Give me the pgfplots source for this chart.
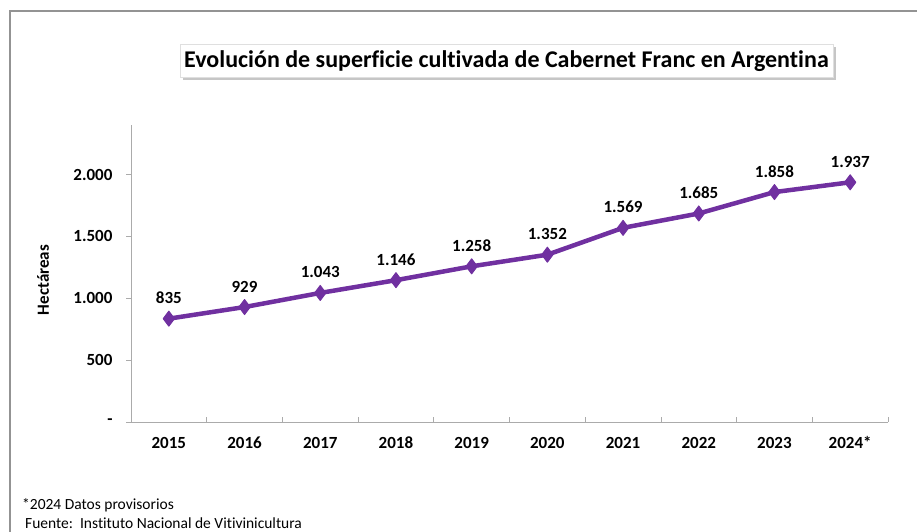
\documentclass[border=0pt]{standalone}
\usepackage{fontspec}
\setmainfont{Carlito}[Ligatures=NoCommon]
\usepackage{pgfplots}
\pgfplotsset{compat=1.18}
\usetikzlibrary{shadows}
\definecolor{uva}{HTML}{7030A0}
\definecolor{eje}{HTML}{ABABAB}

\begin{document}
\begin{tikzpicture}
\useasboundingbox (0pt,0pt) rectangle (917pt,531pt);
% marco exterior (solo se ven arriba e izquierda)
\draw[gray!85, line width=1.5pt] (10pt,-5pt) -- (10pt,520pt) -- (930pt,520pt);

% titulo con sombra
\node[draw=gray!25, fill=white, drop shadow={shadow xshift=3pt, shadow yshift=-3pt, opacity=0.45},
  minimum width=653pt, minimum height=33pt, inner sep=0pt,
  font=\bfseries\fontsize{24}{28}\selectfont] at (506.5pt,470pt)
  {Evolución de superficie cultivada de Cabernet Franc en Argentina};

\begin{axis}[
  scale only axis, width=757pt, height=297pt,
  at={(131pt,109pt)}, anchor=south west,
  xmin=0, xmax=10, ymin=0, ymax=2400,
  axis x line*=bottom, axis y line*=left,
  axis line style={eje, line width=1pt, -},
  xtick={0,...,10}, xticklabels={},
  extra x ticks={0.5,1.5,2.5,3.5,4.5,5.5,6.5,7.5,8.5,9.5},
  extra x tick labels={2015,2016,2017,2018,2019,2020,2021,2022,2023,2024*},
  extra x tick style={major tick length=0pt,
    xticklabel style={text height=11pt, text depth=0pt, yshift=-12pt}},
  xtick align=inside, ytick align=outside,
  ytick={0,500,1000,1500,2000}, yticklabels={-,500,1.000,1.500,2.000},
  major tick length=5pt,
  tick style={eje, line width=0.8pt},
  yticklabel style={xshift=-10pt},
  ticklabel style={font=\bfseries\fontsize{17}{20}\selectfont},
  clip=false,
]
\addplot[uva, line width=4.5pt, line join=round, mark=diamond*, mark size=7.5pt,
  mark options={line width=1pt, fill=uva},
  nodes near coords, point meta=explicit symbolic,
  every node near coord/.append style={text=black, yshift=11pt,
    font=\bfseries\fontsize{17}{20}\selectfont}]
  coordinates {
  (0.5,835) [835]
  (1.5,929) [929]
  (2.5,1043) [1.043]
  (3.5,1146) [1.146]
  (4.5,1258) [1.258]
  (5.5,1352) [1.352]
  (6.5,1569) [1.569]
  (7.5,1685) [1.685]
  (8.5,1858) [1.858]
  (9.5,1937) [1.937]
  };
\end{axis}

\node[rotate=90, font=\bfseries\fontsize{17}{20}\selectfont] at (43pt,251pt) {Hectáreas};
\node[anchor=west, inner sep=0pt, font=\fontsize{15.5}{18}\selectfont] at (22pt,26pt) {*2024 Datos provisorios};
\node[anchor=west, inner sep=0pt, font=\fontsize{15.5}{18}\selectfont] at (25pt,8pt) {Fuente:\ \ Instituto Nacional de Vitivinicultura};
\end{tikzpicture}
\end{document}
